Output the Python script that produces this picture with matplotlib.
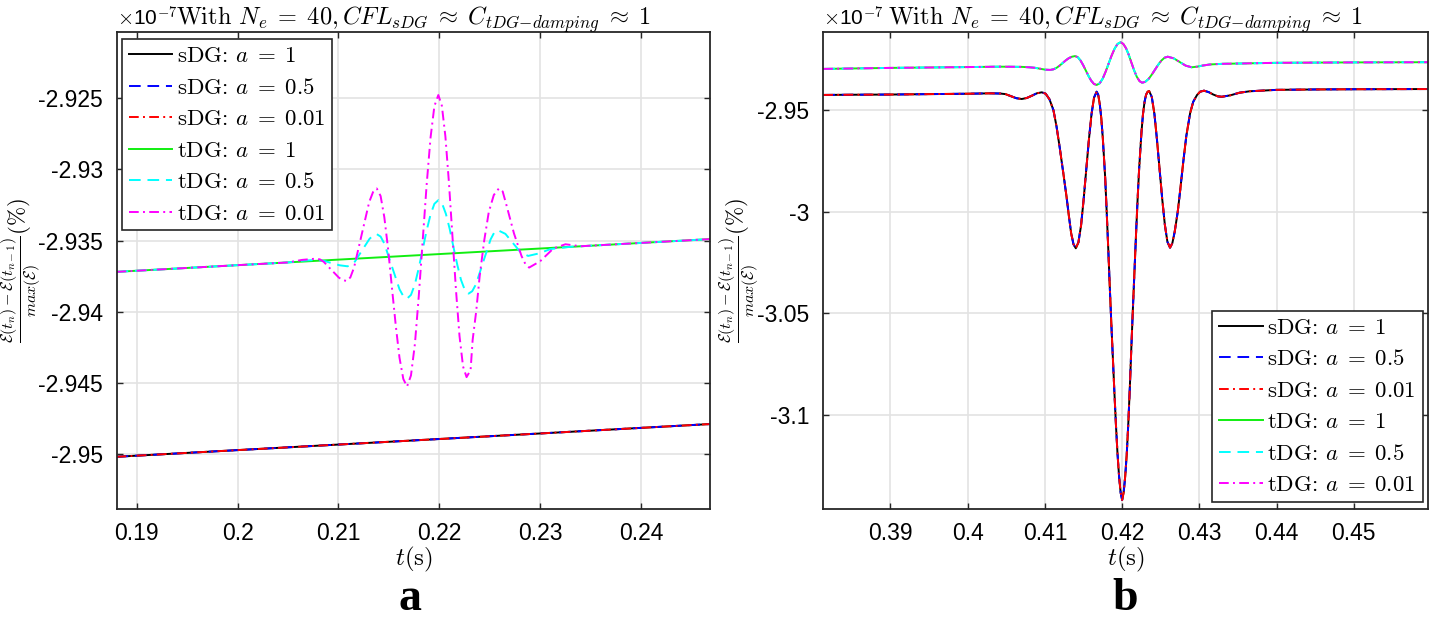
import matplotlib
matplotlib.use('Agg')
import matplotlib.pyplot as plt
from matplotlib.ticker import FixedLocator, FixedFormatter
from matplotlib.font_manager import FontProperties

plt.rcParams['mathtext.fontset'] = 'cm'
plt.rcParams['font.family'] = ['Liberation Sans', 'DejaVu Sans']
plt.rcParams['axes.unicode_minus'] = False

# ---------------- data (energy change, units of 1e-7 %) ----------------
# Panel a
t_a_sdg = [0.1880, 0.2000, 0.2100, 0.2200, 0.2300, 0.2468]
v_a_sdg = [-2.9502, -2.94973, -2.94934, -2.94895, -2.94856, -2.9479]

t_a_tdg1 = [0.1880, 0.2000, 0.2100, 0.2200, 0.2300, 0.2468]
v_a_tdg1 = [-2.9372, -2.93673, -2.93634, -2.93595, -2.93556, -2.9349]

t_a_tdg05 = [0.1880, 0.2000, 0.2050, 0.2064, 0.2078, 0.20858, 0.20935, 0.21013,
             0.2109, 0.21126, 0.21163, 0.21235, 0.21308, 0.21344,
             0.2138, 0.21418, 0.21455, 0.2153, 0.21605, 0.21643,
             0.2168, 0.21719, 0.21758, 0.21796, 0.21835, 0.21874, 0.21913, 0.21951,
             0.2199, 0.22028, 0.22065, 0.22103, 0.2214, 0.22178, 0.22215, 0.22253,
             0.2229, 0.22326, 0.22363, 0.22435, 0.22508, 0.22544,
             0.2258, 0.22655, 0.2273, 0.22805,
             0.2288, 0.2299, 0.2310, 0.2330, 0.2468]
v_a_tdg05 = [-2.9372, -2.93673, -2.93654, -2.93642, -2.93636, -2.93643, -2.93659, -2.93674,
             -2.93681, -2.93672, -2.93648, -2.93568, -2.93488, -2.93464,
             -2.93455, -2.93472, -2.93521, -2.93682, -2.93842, -2.93891,
             -2.93908, -2.93882, -2.93807, -2.93694, -2.93562, -2.93430, -2.93317, -2.93242,
             -2.93216, -2.93241, -2.93312, -2.93419, -2.93545, -2.93670, -2.93777, -2.93848,
             -2.93873, -2.93856, -2.93808, -2.93650, -2.93492, -2.93444,
             -2.93427, -2.93453, -2.93518, -2.93582,
             -2.93608, -2.93590, -2.93560, -2.93544, -2.9349]

t_a_tdg001 = [0.1880, 0.2000, 0.2050, 0.2064, 0.2078, 0.20818, 0.20855, 0.2093, 0.21005, 0.21043,
              0.2108, 0.21118, 0.21155, 0.2123, 0.21305, 0.21343,
              0.2138, 0.21418, 0.21455, 0.21493, 0.2153, 0.21568, 0.21605, 0.21643,
              0.2168, 0.21719, 0.21758, 0.21796, 0.21835, 0.21874, 0.21913, 0.21951,
              0.2199, 0.22025, 0.2206, 0.22095, 0.2213, 0.22165, 0.2220, 0.22235,
              0.2227, 0.2231, 0.2233, 0.22365, 0.2240, 0.22445, 0.2249, 0.2254,
              0.2259, 0.22628, 0.22665, 0.2274, 0.22815, 0.22853,
              0.2289, 0.2300, 0.2313, 0.2325, 0.2340, 0.2468]
v_a_tdg001 = [-2.9372, -2.93673, -2.93654, -2.93636, -2.93627, -2.93633, -2.93650, -2.93706, -2.93761, -2.93778,
              -2.93784, -2.93759, -2.93689, -2.93459, -2.93229, -2.93159,
              -2.93134, -2.93187, -2.93337, -2.93564, -2.93830, -2.94096, -2.94323, -2.94473,
              -2.94526, -2.94448, -2.94227, -2.93893, -2.93502, -2.93110, -2.92776, -2.92555,
              -2.92477, -2.92552, -2.92767, -2.93090, -2.93469, -2.93847, -2.94171, -2.94385,
              -2.94460, -2.94410, -2.94200, -2.94000, -2.93750, -2.93500, -2.93300, -2.93180,
              -2.93134, -2.93155, -2.93250, -2.93450, -2.93609, -2.93665,
              -2.93690, -2.93645, -2.93556, -2.93526, -2.93540, -2.9349]

# Panel b (all three a-values coincide for each method)
t_b_sdg = [0.3813, 0.3850, 0.3900, 0.3950, 0.4000, 0.4030, 0.4042, 0.4049, 0.4056, 0.4063,
           0.4070, 0.40765, 0.4083, 0.40895, 0.4096, 0.4101, 0.4106, 0.4111, 0.4115, 0.4119,
           0.4124, 0.4128, 0.4131, 0.4134, 0.4137, 0.4140, 0.41434, 0.41468, 0.41501, 0.41535,
           0.41569, 0.41603, 0.41636, 0.4167, 0.4169, 0.4171, 0.4173, 0.4175, 0.4178, 0.4180,
           0.4182, 0.4184, 0.4186, 0.4188, 0.4190, 0.4192, 0.4194, 0.4196, 0.4198, 0.4200,
           0.4202, 0.4204, 0.4206, 0.4208, 0.4210, 0.4212, 0.4214, 0.4216, 0.4218, 0.4220,
           0.4222, 0.4225, 0.4227, 0.4229, 0.4231, 0.4233, 0.4235, 0.42384, 0.42418, 0.42451,
           0.42485, 0.42519, 0.42553, 0.42586, 0.4262, 0.4265, 0.4268, 0.4272, 0.4275, 0.4279,
           0.4283, 0.4288, 0.4292, 0.4297, 0.4301, 0.4306, 0.4312, 0.4318, 0.4324, 0.4329,
           0.4340, 0.4352, 0.4365, 0.4380, 0.4400, 0.4450, 0.4500, 0.4597]
v_b_sdg = [-2.9426, -2.9425, -2.9424, -2.9422, -2.9420, -2.9418, -2.9419, -2.9422, -2.9432, -2.9442,
           -2.9446, -2.9441, -2.9430, -2.9418, -2.9413, -2.9420, -2.9448, -2.9500, -2.9580, -2.9680,
           -2.9815, -2.9926, -3.0020, -3.0106, -3.0160, -3.0180, -3.0151, -3.0068, -2.9942, -2.9795,
           -2.9648, -2.9522, -2.9439, -2.9410, -2.9425, -2.9470, -2.9540, -2.9640, -2.9830, -3.0000,
           -3.0180, -3.0370, -3.0550, -3.0720, -3.0890, -3.1050, -3.1190, -3.1300, -3.1380, -3.1418,
           -3.1380, -3.1300, -3.1190, -3.1040, -3.0860, -3.0660, -3.0470, -3.0290, -3.0110, -2.9940,
           -2.9790, -2.9610, -2.9520, -2.9460, -2.9425, -2.9410, -2.9407, -2.9436, -2.9520, -2.9646,
           -2.9792, -2.9938, -3.0064, -3.0148, -3.0177, -3.0155, -3.0100, -3.0000, -2.9900, -2.9760,
           -2.9630, -2.9516, -2.9460, -2.9426, -2.9410, -2.9405, -2.9412, -2.9424, -2.9433, -2.9435,
           -2.9428, -2.9415, -2.9408, -2.9405, -2.9401, -2.9399, -2.9398, -2.9397]

t_b_tdg = [0.3813, 0.3900, 0.4000, 0.4042, 0.4070, 0.4080, 0.4088, 0.4095, 0.4101, 0.4107,
           0.4111, 0.4115, 0.4119, 0.4123, 0.4127, 0.4131, 0.4135, 0.4139,
           0.41425, 0.4146, 0.41495, 0.4153, 0.41565, 0.4160, 0.41635, 0.4167,
           0.41709, 0.41748, 0.41786, 0.41825, 0.41864, 0.41903, 0.41941, 0.4198,
           0.42015, 0.4205, 0.42085, 0.4212, 0.42155, 0.4219, 0.42225, 0.4226,
           0.42301, 0.42343, 0.42384, 0.42425, 0.42466, 0.42508, 0.42549, 0.4259,
           0.42668, 0.42745, 0.42823, 0.4290, 0.4297, 0.4305, 0.4314, 0.4330,
           0.4400, 0.4500, 0.4597]
v_b_tdg = [-2.9298, -2.9293, -2.9289, -2.9287, -2.9288, -2.9290, -2.9293, -2.9298, -2.9302, -2.9303,
           -2.9300, -2.9293, -2.9282, -2.9269, -2.9256, -2.9245, -2.9238, -2.9235,
           -2.9240, -2.9256, -2.9279, -2.9306, -2.9333, -2.9356, -2.9372, -2.9377,
           -2.9369, -2.9346, -2.9312, -2.9272, -2.9232, -2.9198, -2.9175, -2.9167,
           -2.9175, -2.9196, -2.9228, -2.9267, -2.9305, -2.9337, -2.9358, -2.9366,
           -2.9361, -2.9347, -2.9326, -2.9302, -2.9278, -2.9257, -2.9243, -2.9238,
           -2.9246, -2.9264, -2.9282, -2.9290, -2.9287, -2.9281, -2.9276, -2.9273,
           -2.9268, -2.9266, -2.9265]

labels_method = ['sDG', 'sDG', 'sDG', 'tDG', 'tDG', 'tDG']
labels_a = ['1', '0.5', '0.01', '1', '0.5', '0.01']

xticks_a = [0.19, 0.20, 0.21, 0.22, 0.23, 0.24]
xticklabels_a = ['0.19', '0.2', '0.21', '0.22', '0.23', '0.24']
yticks_a = [-2.95, -2.945, -2.94, -2.935, -2.93, -2.925]
yticklabels_a = ['-2.95', '-2.945', '-2.94', '-2.935', '-2.93', '-2.925']
xticks_b = [0.39, 0.40, 0.41, 0.42, 0.43, 0.44, 0.45]
xticklabels_b = ['0.39', '0.4', '0.41', '0.42', '0.43', '0.44', '0.45']
yticks_b = [-3.1, -3.05, -3.0, -2.95]
yticklabels_b = ['-3.1', '-3.05', '-3', '-2.95']

# ---------------- styling ----------------
colors = ['black', '#0000ff', '#ff0000', '#11ee11', '#00ffff', '#ff00ff']
dash = (0, (6.0, 3.5))
dashdot = (0, (5.0, 2.2, 1.0, 2.2))
styles = ['-', dash, dashdot, '-', dash, dashdot]
LW = 1.4

W, H = 1431, 624
fig = plt.figure(figsize=(W / 100, H / 100), dpi=100)


def px_axes(l, t, r, b):
    return [l / W, 1 - b / H, (r - l) / W, (b - t) / H]


axA = fig.add_axes(px_axes(117, 32, 710, 509))
axB = fig.add_axes(px_axes(823, 32, 1428, 509))

cm_title = FontProperties(family='cmr10', size=17.5)
title_txt = r'With $N_e\;=\;40, CFL_{sDG}\;\approx\;C_{tDG{-}damping}\;\approx\;1$'
ylab = r'$\frac{\mathcal{E}(t_n)-\mathcal{E}(t_{n-1})}{max(\mathcal{E})}(\%)$'

data_a = [(t_a_sdg, v_a_sdg), (t_a_sdg, v_a_sdg), (t_a_sdg, v_a_sdg),
          (t_a_tdg1, v_a_tdg1), (t_a_tdg05, v_a_tdg05), (t_a_tdg001, v_a_tdg001)]
data_b = [(t_b_sdg, v_b_sdg)] * 3 + [(t_b_tdg, v_b_tdg)] * 3

for ax, data, xl, yl, xt, xtl, yt, ytl in [
        (axA, data_a, (0.18805, 0.24683), (-2.95387, -2.92034), xticks_a, xticklabels_a, yticks_a, yticklabels_a),
        (axB, data_b, (0.38127, 0.45960), (-3.1462, -2.91165), xticks_b, xticklabels_b, yticks_b, yticklabels_b)]:
    for (t, v), c, ls, m, a in zip(data, colors, styles, labels_method, labels_a):
        ax.plot(t, v, color=c, linestyle=ls, lw=LW, label=m + r': $a\;=\;' + a + '$')
    ax.set_xlim(*xl)
    ax.set_ylim(*yl)
    ax.xaxis.set_major_locator(FixedLocator(xt))
    ax.xaxis.set_major_formatter(FixedFormatter(xtl))
    ax.yaxis.set_major_locator(FixedLocator(yt))
    ax.yaxis.set_major_formatter(FixedFormatter(ytl))
    ax.grid(True, color='#e3e3e3', lw=1.2)
    ax.set_axisbelow(True)
    ax.tick_params(direction='in', top=True, right=True, length=4.5, width=1.0,
                   color='#262626', labelsize=16.5, labelcolor='black')
    ax.tick_params(axis='x', pad=9)
    ax.tick_params(axis='y', pad=10)
    for s in ax.spines.values():
        s.set_color('#262626')
        s.set_linewidth(1.3)
    ax.set_title(title_txt, fontproperties=cm_title, pad=5)
    ax.set_xlabel(r'$t(\mathrm{s})$', fontsize=18)
    ax.set_ylabel(ylab, fontsize=16.5)
    ax.text(0.0, 1.004, r'$\times$10$^{\mathsf{-7}}$', transform=ax.transAxes,
            ha='left', va='bottom', fontsize=15)

axA.xaxis.set_label_coords(0.5, -0.075)
axB.xaxis.set_label_coords(0.5, -0.075)
axA.yaxis.set_label_coords(-0.124, 0.5)
axB.yaxis.set_label_coords(-0.103, 0.5)

leg_kw = dict(prop=FontProperties(family='cmr10', size=16.5), frameon=True, fancybox=False,
              framealpha=1, edgecolor='#262626', borderaxespad=0, handlelength=1.9,
              handletextpad=0.2, borderpad=0.3, labelspacing=0.5)
legA = axA.legend(loc='upper left', bbox_to_anchor=(0.008, 0.985), **leg_kw)
legB = axB.legend(loc='lower right', bbox_to_anchor=(0.991, 0.014), **leg_kw)
for lg in (legA, legB):
    lg.get_frame().set_linewidth(1.2)

fig.text(410 / W, 1 - 610 / H, 'a', fontsize=33, fontweight='bold',
         family='Liberation Serif', ha='center', va='baseline')
fig.text(1125 / W, 1 - 610 / H, 'b', fontsize=33, fontweight='bold',
         family='Liberation Serif', ha='center', va='baseline')

fig.savefig('out.png', dpi=100)
